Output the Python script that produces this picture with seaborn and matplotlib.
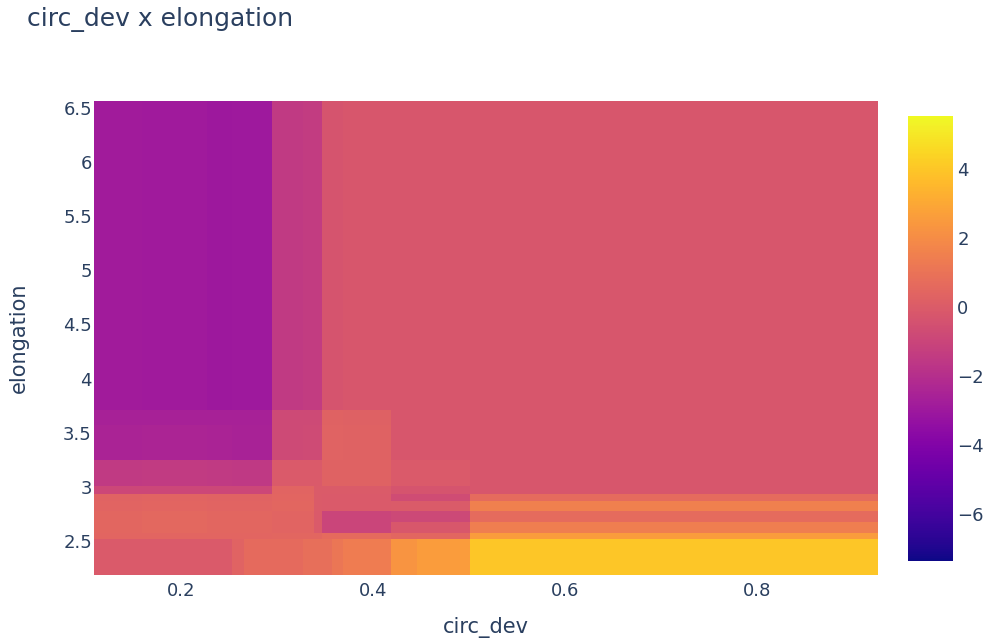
import numpy as np
import matplotlib
matplotlib.use("Agg")
import matplotlib.pyplot as plt
from matplotlib.ticker import FuncFormatter
import seaborn as sns

# Cell edges of the partial-dependence grid
circ_dev_edges = [0.109, 0.159, 0.227, 0.253, 0.265, 0.295, 0.327, 0.338,
                  0.347, 0.357, 0.369, 0.418, 0.446, 0.501, 0.926]
elongation_edges = [2.184, 2.517, 2.569, 2.671, 2.778, 2.871, 2.933,
                    3.006, 3.247, 3.570, 3.709, 6.565]

# Partial dependence values, one row per elongation band (bottom to top)
pd_row_0 = [-0.10, -0.08, -0.10, 0.30, 0.63, 0.63, 0.80, 0.85, 0.85, 1.15, 1.40, 2.30, 2.60, 4.00]
pd_row_1 = [0.40, 0.42, 0.40, 0.40, 0.40, 0.45, 0.45, 0.45, 0.60, 0.60, 0.60, 0.45, 0.45, 2.57]
pd_row_2 = [0.45, 0.50, 0.45, 0.45, 0.45, 0.35, 0.35, -0.10, -1.00, -1.00, -1.00, -0.20, -0.20, 1.45]
pd_row_3 = [0.45, 0.50, 0.45, 0.45, 0.45, 0.35, 0.35, -0.10, -1.00, -1.00, -1.00, -0.85, -0.85, 0.65]
pd_row_4 = [0.35, 0.40, 0.35, 0.35, 0.35, 0.45, 0.45, -0.05, -0.10, -0.10, -0.10, -0.05, -0.05, 1.55]
pd_row_5 = [0.30, 0.35, 0.30, 0.30, 0.30, 0.40, 0.40, -0.05, -0.10, -0.10, -0.10, -0.70, -0.70, 0.65]
pd_row_6 = [-0.90, -0.90, -0.90, -0.90, -0.90, 0.35, 0.35, -0.05, -0.05, -0.05, -0.05, -0.35, -0.35, -0.22]
pd_row_7 = [-1.50, -1.45, -1.50, -1.55, -1.55, -0.10, -0.10, -0.10, 0.25, 0.25, 0.25, -0.10, -0.10, -0.22]
pd_row_8 = [-2.50, -2.45, -2.50, -2.55, -2.55, -0.80, -0.75, -0.75, 0.30, 0.30, 0.25, -0.22, -0.22, -0.22]
pd_row_9 = [-2.60, -2.60, -2.60, -2.60, -2.60, -0.80, -0.80, -0.80, 0.25, 0.25, 0.20, -0.22, -0.22, -0.22]
pd_row_10 = [-2.85, -2.90, -3.00, -2.95, -2.95, -1.50, -1.40, -1.40, -0.32, -0.32, -0.22, -0.22, -0.22, -0.22]

z_min, z_max = -7.37, 5.54
x_ticks = [0.2, 0.4, 0.6, 0.8]
y_ticks = [2.5, 3, 3.5, 4, 4.5, 5, 5.5, 6, 6.5]
cbar_ticks = [-6, -4, -2, 0, 2, 4]

sns.set_theme(style="white")
plt.rcParams['font.family'] = ['DejaVu Sans']
text_color = "#2a3f5f"

pd_grid = np.array([pd_row_0, pd_row_1, pd_row_2, pd_row_3, pd_row_4, pd_row_5,
                    pd_row_6, pd_row_7, pd_row_8, pd_row_9, pd_row_10])

W, H = 986, 642
fig = plt.figure(figsize=(W / 100, H / 100), dpi=100)
ax = fig.add_axes([94 / W, (H - 575) / H, 784 / W, 474 / H])

cmap = sns.color_palette("plasma", as_cmap=True)
mesh = ax.pcolormesh(circ_dev_edges, elongation_edges, pd_grid, cmap=cmap,
                     vmin=z_min, vmax=z_max, shading="flat")

ax.set_xlim(circ_dev_edges[0], circ_dev_edges[-1])
ax.set_ylim(elongation_edges[0], elongation_edges[-1])
ax.set_xticks(x_ticks)
ax.set_yticks(y_ticks)
fmt = FuncFormatter(lambda v, p: f"{v:g}")
ax.xaxis.set_major_formatter(fmt)
ax.yaxis.set_major_formatter(fmt)
ax.tick_params(axis="both", length=0, labelsize=13, colors=text_color)
ax.tick_params(axis="x", pad=5)
ax.tick_params(axis="y", pad=1.5)
for s in ax.spines.values():
    s.set_visible(False)

# Colour bar
cax = fig.add_axes([908 / W, (H - 561) / H, 45 / W, 445 / H])
cb = fig.colorbar(mesh, cax=cax, ticks=cbar_ticks)
cb.outline.set_visible(False)
cax.tick_params(length=0, labelsize=13, colors=text_color, pad=3)

# Titles
fig.text(27 / W, 1 - 19 / H, "circ_dev x elongation", fontsize=18,
         color=text_color, ha="left", va="center")
fig.text(486 / W, 1 - 628 / H, "circ_dev", fontsize=15, color=text_color,
         ha="center", va="center")
fig.text(19 / W, 1 - 338 / H, "elongation", fontsize=15, color=text_color,
         ha="center", va="center", rotation=90)

fig.savefig("out.png", dpi=100, facecolor="white")
